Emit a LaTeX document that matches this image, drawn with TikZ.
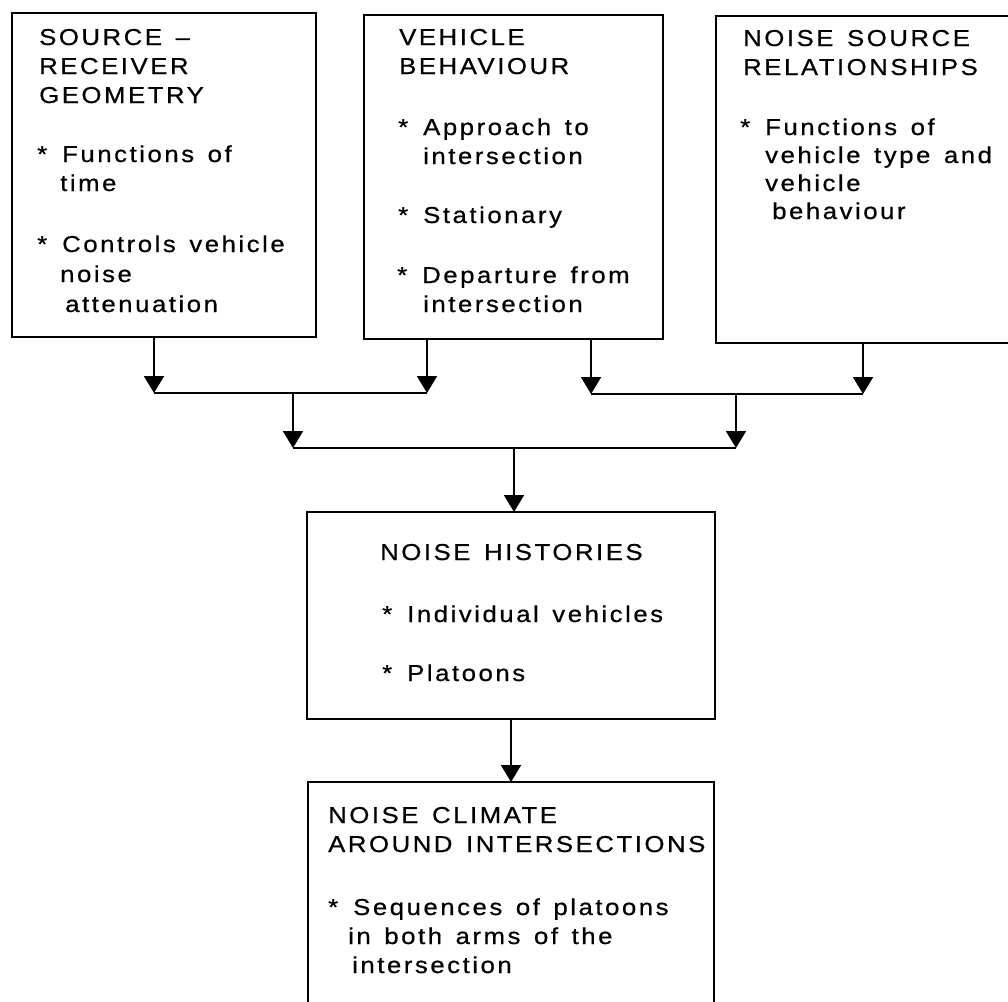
\documentclass[tikz,border=0pt]{standalone}
\usepackage{fontspec}
\setmainfont[FakeStretch=1.12,LetterSpace=11,WordSpace=1.4,FakeBold=0.6]{Liberation Sans}
\usetikzlibrary{arrows.meta}
\tikzset{
  box/.style={draw, line width=2.8pt, anchor=north west, inner sep=0pt, outer sep=0pt},
  txt/.style={anchor=base west, inner sep=0pt, font=\fontsize{23}{29}\selectfont},
  conn/.style={line width=1.9pt},
  arr/.style={line width=1.9pt, -{Triangle[width=20pt,length=17pt]}},
}
\newcommand\bul{\makebox[25pt][l]{*}}
\begin{document}
\begin{tikzpicture}[x=1pt,y=-1pt]
\clip (0,0) rectangle (1008,1001);
\fill[white] (0,0) rectangle (1008,1001);
% boxes
\node[box, minimum width=304pt, minimum height=324pt] (b1) at (12,13) {};
\node[box, minimum width=299pt, minimum height=324pt] (b2) at (364,15) {};
\node[box, minimum width=330pt, minimum height=327pt] (b3) at (716,16) {};
\node[box, minimum width=408pt, minimum height=207pt] (b4) at (307,512) {};
\node[box, minimum width=406pt, minimum height=260pt] (b5) at (308,782) {};
% box 1 text
\node[txt] (t11) at (39,45) {SOURCE --};
\node[txt] (t12) at (39,74) {RECEIVER};
\node[txt] (t13) at (39,103) {GEOMETRY};
\node[txt] (t14) at (37,162) {\bul Functions of};
\node[txt] (t15) at (60,191) {time};
\node[txt] (t16) at (37,252) {\bul Controls vehicle};
\node[txt] (t17) at (60,282) {noise};
\node[txt] (t18) at (65,312) {attenuation};
% box 2 text
\node[txt] (t21) at (399,45) {VEHICLE};
\node[txt] (t22) at (399,74) {BEHAVIOUR};
\node[txt] (t23) at (398,135) {\bul Approach to};
\node[txt] (t24) at (423,164) {intersection};
\node[txt] (t25) at (398,223) {\bul Stationary};
\node[txt] (t26) at (397,283) {\bul Departure from};
\node[txt] (t27) at (423,312) {intersection};
% box 3 text
\node[txt] (t31) at (743,46) {NOISE SOURCE};
\node[txt] (t32) at (743,75) {RELATIONSHIPS};
\node[txt] (t33) at (740,135) {\bul Functions of};
\node[txt] (t34) at (765,163) {vehicle type and};
\node[txt] (t35) at (765,191) {vehicle};
\node[txt] (t36) at (772,219) {behaviour};
% box 4 text
\node[txt] (t41) at (380,560) {NOISE HISTORIES};
\node[txt] (t42) at (382,622) {\bul Individual vehicles};
\node[txt] (t43) at (382,681) {\bul Platoons};
% box 5 text
\node[txt] (t51) at (328,823) {NOISE CLIMATE};
\node[txt] (t52) at (328,852) {AROUND INTERSECTIONS};
\node[txt] (t53) at (328,915) {\bul Sequences of platoons};
\node[txt] (t54) at (348,944) {in both arms of the};
\node[txt] (t55) at (352,973) {intersection};
% connectors
\coordinate (a1) at (154,393);
\coordinate (a2) at (427,393);
\coordinate (a3) at (591,394);
\coordinate (a4) at (863,394);
\coordinate (m1) at (293,393);
\coordinate (m2) at (736,394);
\coordinate (c1) at (293,448);
\coordinate (c2) at (736,448);
\coordinate (m3) at (514,448);
\draw[arr] (b1.south -| a1) -- (a1);
\draw[arr] (b2.south -| a2) -- (a2);
\draw[arr] (b2.south -| a3) -- (a3);
\draw[arr] (b3.south -| a4) -- (a4);
\draw[conn] (a1) -- (a2);
\draw[conn] (a3) -- (a4);
\draw[arr] (m1) -- (c1);
\draw[arr] (m2) -- (c2);
\draw[conn] (c1) -- (c2);
\draw[arr] (m3) -- (b4.north -| m3);
\draw[arr] (b4.south) -- (b5.north);
\end{tikzpicture}
\end{document}
